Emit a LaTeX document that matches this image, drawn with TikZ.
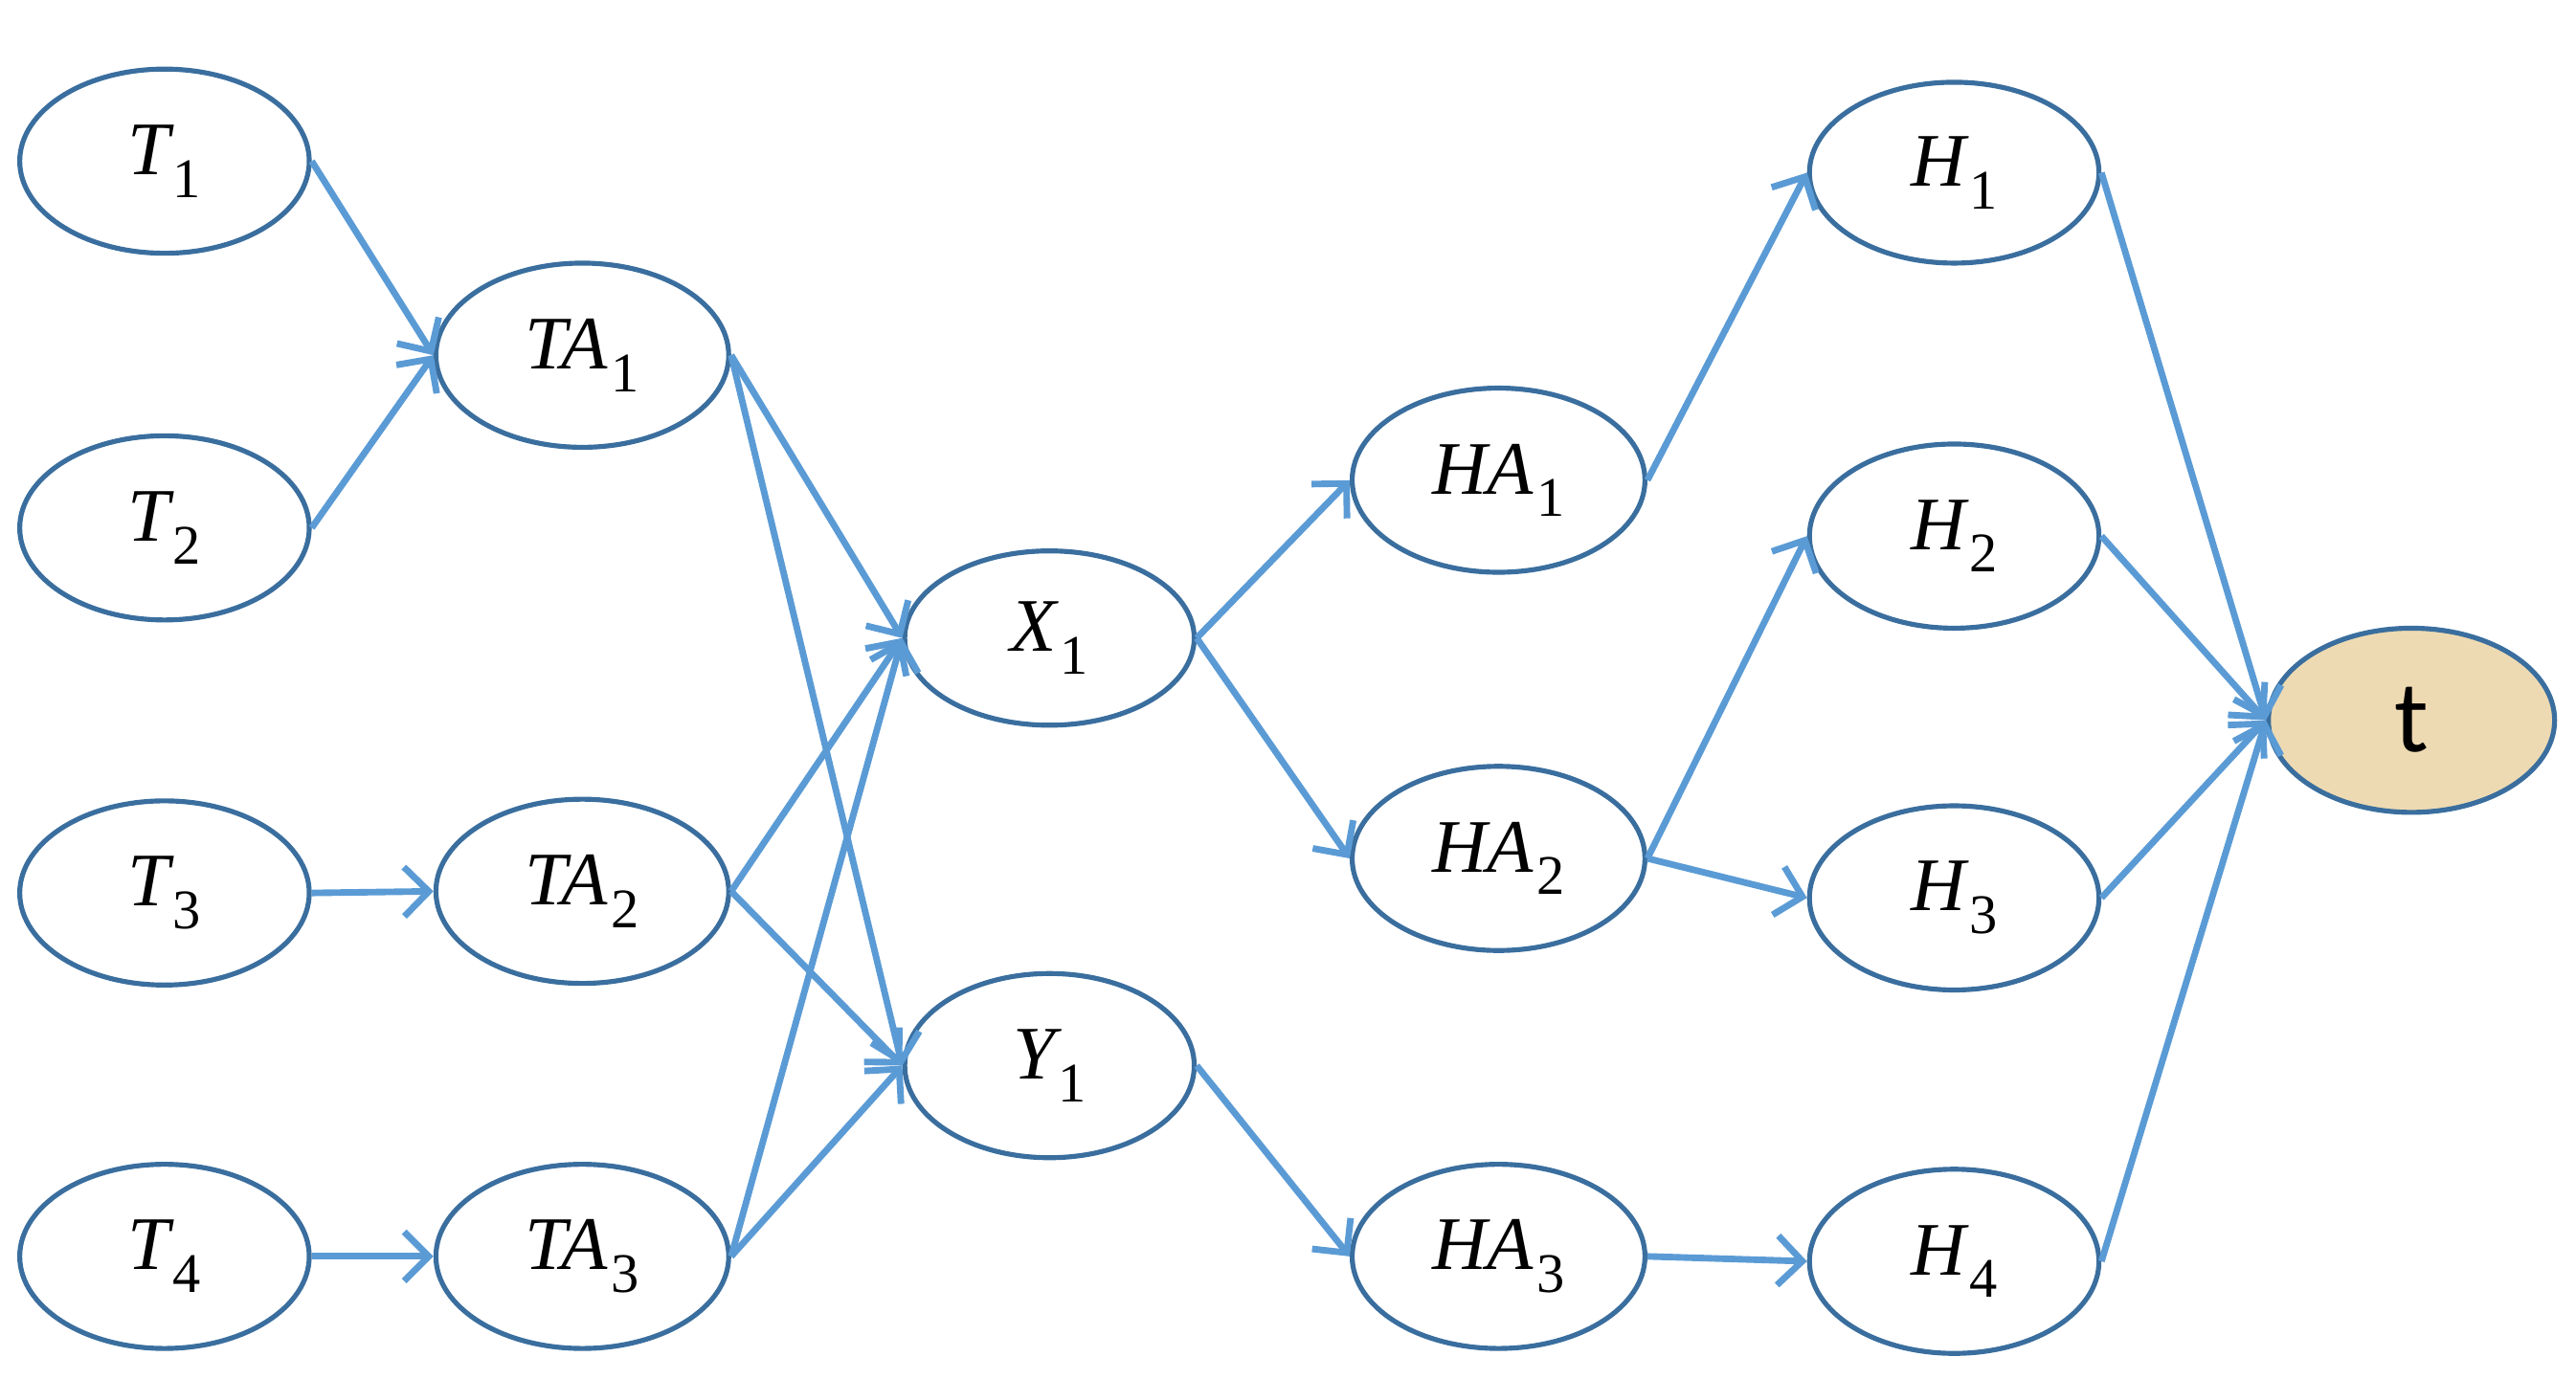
\documentclass[tikz,border=0pt]{standalone}
\usepackage{fontspec}
\newfontfamily\tfont{Carlito}
\newfontfamily\labfont{Liberation Serif}
\usetikzlibrary{shapes.geometric,arrows.meta}
\definecolor{nodeborder}{HTML}{3A6E9E}
\definecolor{arrowblue}{HTML}{5B9BD5}
\definecolor{tanfill}{HTML}{EEDAB2}
\newcommand{\lab}[2]{\raisebox{-0.15em}{{\labfont\itshape #1}\kern2pt\raisebox{-0.3em}{\labfont\fontsize{34}{34}\selectfont #2}}}
\begin{document}
\begin{tikzpicture}[x=1pt,y=-1pt,
  nd/.style={ellipse,draw=nodeborder,line width=3pt,minimum width=176pt,minimum height=112pt,inner sep=0pt,font=\fontsize{46}{50}\selectfont},
  arr/.style={draw=arrowblue,line width=4pt,-{Straight Barb[length=15pt,width=30pt,line width=4pt]}}]
\useasboundingbox (0,0) rectangle (1566,838);
\node[nd] (T1) at (100,98) {\lab{T}{1}};
\node[nd] (T2) at (100,321) {\lab{T}{2}};
\node[nd] (T3) at (100,543) {\lab{T}{3}};
\node[nd] (T4) at (100,764) {\lab{T}{4}};
\node[nd,minimum width=178pt] (TA1) at (354,216) {\lab{TA}{1}};
\node[nd,minimum width=178pt] (TA2) at (354,542) {\lab{TA}{2}};
\node[nd,minimum width=178pt] (TA3) at (354,764) {\lab{TA}{3}};
\node[nd,minimum height=106pt] (X1) at (638,388) {\lab{X}{1}};
\node[nd] (Y1) at (638,648) {\lab{Y}{1}};
\node[nd,minimum width=178pt] (HA1) at (911,292) {\lab{HA}{1}};
\node[nd,minimum width=178pt] (HA2) at (911,522) {\lab{HA}{2}};
\node[nd,minimum width=178pt] (HA3) at (911,764) {\lab{HA}{3}};
\node[nd,minimum height=110pt] (H1) at (1188,105) {\lab{H}{1}};
\node[nd] (H2) at (1188,326) {\lab{H}{2}};
\node[nd] (H3) at (1188,546) {\lab{H}{3}};
\node[nd] (H4) at (1188,767) {\lab{H}{4}};
\node[nd,fill=tanfill,minimum width=174pt,font=\tfont\fontsize{62}{66}\selectfont] (t) at (1466,438) {t};
\foreach \a/\b in {T1/TA1,T2/TA1,T3/TA2,T4/TA3,TA1/X1,TA1/Y1,TA2/X1,TA2/Y1,TA3/X1,TA3/Y1,X1/HA1,X1/HA2,Y1/HA3,HA1/H1,HA2/H2,HA2/H3,HA3/H4,H1/t,H2/t,H3/t,H4/t}
  \draw[arr] (\a.east) -- (\b.west);
\end{tikzpicture}
\end{document}
